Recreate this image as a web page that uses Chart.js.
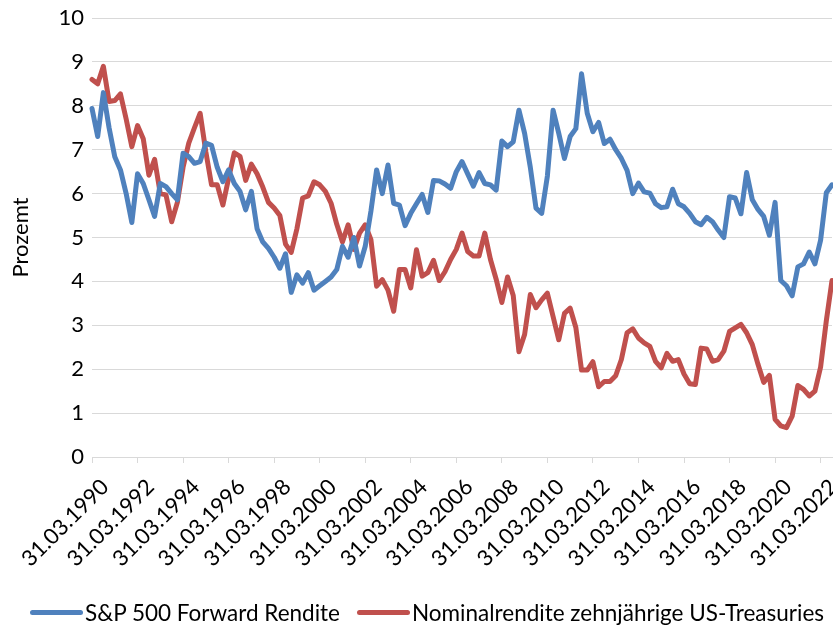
<!DOCTYPE html>
<html>
<head>
<meta charset="utf-8">
<script src="https://cdn.jsdelivr.net/npm/chart.js@4/dist/chart.umd.min.js"></script>
<style>
  html, body { margin: 0; padding: 0; background: #fff; }
  #wrap { position: relative; width: 833px; height: 630px; overflow: hidden; }
  .leg { position: absolute; top: 599px; height: 26px; display: flex; align-items: center;
         font-family: Lato, "Open Sans", sans-serif; font-size: 22.5px; color: #000; white-space: nowrap; }
  .sw { display: inline-block; width: 53px; height: 5px; border-radius: 3px; margin-right: 2px; }
</style>
</head>
<body>
<div id="wrap">
  <canvas id="chart" width="833" height="630"></canvas>
  <div class="leg" style="left:30px"><span class="sw" style="background:#4f81bd"></span>S&amp;P 500 Forward Rendite</div>
  <div class="leg" style="left:357px"><span class="sw" style="background:#c0504d"></span>Nominalrendite zehnjährige US-Treasuries</div>
</div>
<script>
// Quarter-end dates, 31.03.1990 through 30.09.2022
const QUARTER_ENDS = ['31.03', '30.06', '30.09', '31.12'];
const FIRST_YEAR = 1990;
const LAST_YEAR = 2022;
const QUARTERS_IN_LAST_YEAR = 3;
const quarters = [];
for (let y = FIRST_YEAR; y <= LAST_YEAR; y++) {
  const n = y === LAST_YEAR ? QUARTERS_IN_LAST_YEAR : 4;
  for (let q = 0; q < n; q++) quarters.push(QUARTER_ENDS[q] + '.' + y);
}

// Labels shown on the date axis
const tickLabels = [
  '31.03.1990', '31.03.1992', '31.03.1994', '31.03.1996', '31.03.1998',
  '31.03.2000', '31.03.2002', '31.03.2004', '31.03.2006', '31.03.2008',
  '31.03.2010', '31.03.2012', '31.03.2014', '31.03.2016', '31.03.2018',
  '31.03.2020', '31.03.2022'
];

const yTicks = [0, 1, 2, 3, 4, 5, 6, 7, 8, 9, 10];

// S&P 500 forward earnings yield, percent
const spForwardYield = [
  7.94, 7.30, 8.30, 7.50, 6.84, 6.54, 6.00, 5.34, 6.45, 6.23,
  5.86, 5.48, 6.23, 6.16, 6.00, 5.86, 6.92, 6.84, 6.69, 6.73,
  7.15, 7.10, 6.60, 6.27, 6.54, 6.23, 6.05, 5.63, 6.05, 5.20,
  4.90, 4.75, 4.55, 4.30, 4.63, 3.75, 4.15, 3.96, 4.20, 3.80,
  3.90, 4.00, 4.10, 4.27, 4.80, 4.55, 5.00, 4.35, 4.80, 5.60,
  6.54, 6.00, 6.65, 5.78, 5.74, 5.27, 5.55, 5.77, 5.98, 5.57,
  6.30, 6.29, 6.22, 6.12, 6.50, 6.73, 6.45, 6.17, 6.48, 6.23,
  6.20, 6.08, 7.20, 7.07, 7.18, 7.90, 7.37, 6.60, 5.67, 5.55,
  6.40, 7.90, 7.37, 6.80, 7.30, 7.48, 8.73, 7.83, 7.41, 7.62,
  7.14, 7.24, 7.00, 6.80, 6.53, 6.00, 6.24, 6.04, 6.01, 5.77,
  5.68, 5.70, 6.10, 5.77, 5.70, 5.55, 5.36, 5.29, 5.46, 5.36,
  5.17, 5.00, 5.93, 5.90, 5.54, 6.48, 5.86, 5.64, 5.48, 5.05,
  5.80, 4.02, 3.90, 3.67, 4.33, 4.40, 4.67, 4.40, 4.94, 6.02,
  6.20
];

// Nominal yield of 10-year US Treasuries, percent
const treasuryYield = [
  8.60, 8.50, 8.90, 8.10, 8.12, 8.27, 7.70, 7.07, 7.55, 7.25,
  6.42, 6.78, 6.00, 5.97, 5.36, 5.80, 6.60, 7.15, 7.50, 7.83,
  6.95, 6.20, 6.20, 5.74, 6.35, 6.93, 6.85, 6.30, 6.67, 6.45,
  6.15, 5.80, 5.67, 5.50, 4.85, 4.66, 5.20, 5.90, 5.95, 6.27,
  6.20, 6.05, 5.78, 5.30, 4.90, 5.29, 4.73, 5.10, 5.29, 4.95,
  3.89, 4.04, 3.80, 3.32, 4.27, 4.27, 3.85, 4.72, 4.12, 4.20,
  4.48, 4.02, 4.22, 4.50, 4.73, 5.10, 4.68, 4.58, 4.58, 5.10,
  4.50, 4.05, 3.52, 4.10, 3.68, 2.40, 2.79, 3.70, 3.40, 3.58,
  3.73, 3.20, 2.67, 3.27, 3.39, 2.95, 1.98, 1.98, 2.17, 1.60,
  1.72, 1.72, 1.85, 2.22, 2.83, 2.92, 2.71, 2.60, 2.52, 2.18,
  2.03, 2.36, 2.18, 2.22, 1.89, 1.67, 1.65, 2.48, 2.46, 2.18,
  2.22, 2.41, 2.86, 2.94, 3.02, 2.83, 2.56, 2.11, 1.70, 1.86,
  0.86, 0.71, 0.67, 0.93, 1.63, 1.54, 1.39, 1.50, 2.05, 3.10,
  4.02
];

const FONT = { family: 'Lato, "Open Sans", sans-serif', size: 22 };
const GRID = '#d9d9d9';

new Chart(document.getElementById('chart'), {
  type: 'line',
  data: {
    labels: quarters,
    datasets: [
      {
        label: 'S&P 500 Forward Rendite',
        data: spForwardYield,
        borderColor: '#4f81bd',
        backgroundColor: '#4f81bd',
        borderWidth: 5,
        borderCapStyle: 'round',
        borderJoinStyle: 'round',
        pointRadius: 0,
        tension: 0,
        clip: 4
      },
      {
        label: 'Nominalrendite zehnjährige US-Treasuries',
        data: treasuryYield,
        borderColor: '#c0504d',
        backgroundColor: '#c0504d',
        borderWidth: 5,
        borderCapStyle: 'round',
        borderJoinStyle: 'round',
        pointRadius: 0,
        tension: 0,
        clip: 4
      }
    ]
  },
  options: {
    responsive: false,
    animation: false,
    devicePixelRatio: 1,
    layout: { padding: { top: 18, right: 1, bottom: 53, left: 0 } },
    plugins: { legend: { display: false }, tooltip: { enabled: false } },
    scales: {
      x: {
        type: 'category',
        offset: false,
        grid: { drawOnChartArea: false, drawTicks: true, tickLength: 6, color: GRID, lineWidth: 1 },
        border: { display: true, color: GRID, width: 1 },
        ticks: {
          autoSkip: false,
          minRotation: 45,
          maxRotation: 45,
          padding: 11,
          labelOffset: 13,
          color: '#000',
          font: FONT,
          callback(value, index) {
            const label = quarters[index];
            return tickLabels.includes(label) ? label : null;
          }
        },
        afterFit(scale) {
          scale.height = 120;
          scale.paddingLeft = 0;
          scale.paddingRight = 0;
        }
      },
      y: {
        min: yTicks[0],
        max: yTicks[yTicks.length - 1],
        afterBuildTicks(scale) { scale.ticks = yTicks.map(v => ({ value: v })); },
        ticks: { padding: 8, color: '#000', font: FONT },
        grid: { color: GRID, drawTicks: false, lineWidth: 1 },
        border: { display: false },
        title: { display: true, text: 'Prozemt', color: '#000', font: FONT, padding: { top: 8, bottom: 0 } },
        afterFit(scale) {
          scale.width = 92;
          scale.paddingTop = 0;
          scale.paddingBottom = 0;
        }
      }
    }
  }
});
</script>
</body>
</html>
